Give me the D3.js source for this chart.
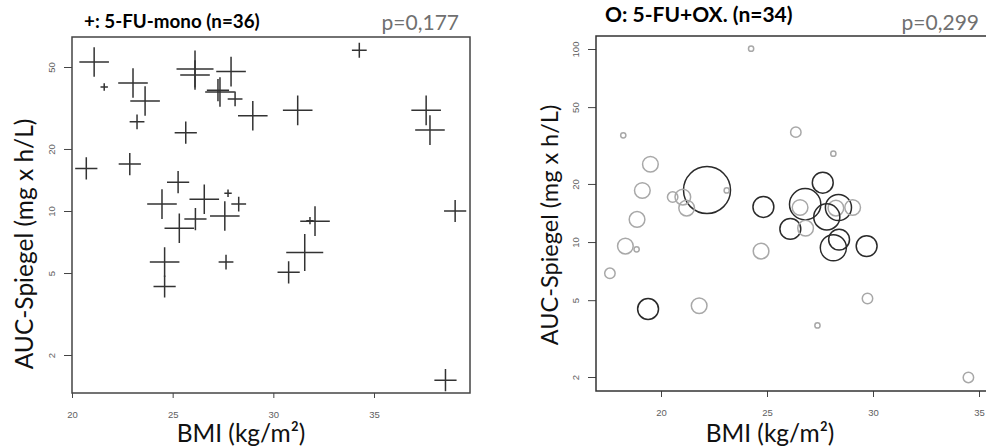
<!DOCTYPE html>
<html>
<head>
<meta charset="utf-8">
<script src="https://cdn.jsdelivr.net/npm/d3@7"></script>
<style>
  body { margin: 0; background: #fff; }
  svg { display: block; }
  .tick text { font-family: "Liberation Sans", Arial, sans-serif; font-size: 9.5px; fill: #606060; }
  .tick line { stroke: #444; }
</style>
</head>
<body>
<div id="chart"></div>
<script>
// 5-FU mono: BMI, AUC level, symbol size class (cross)
var monoBmi = [21.1, 21.6, 23.03, 23.63, 23.23, 25.65, 26.11, 26.11, 27.9, 27.25, 27.35, 28.1,
  28.98, 31.21, 34.27, 37.59, 37.78, 39.03, 38.55, 20.71, 22.87, 25.27, 24.47, 26.57,
  27.75, 28.28, 26.13, 25.33, 27.59, 24.6, 24.6, 27.65, 31.82, 32.07, 31.56, 30.76];
var monoAuc = [52.9, 40.0, 41.8, 34.2, 27.1, 24.0, 48.9, 45.7, 47.5, 38.6, 37.8, 35.0,
  29.0, 30.8, 60.3, 30.8, 24.7, 10.0, 1.51, 16.1, 16.9, 13.8, 10.8, 11.4,
  12.2, 10.8, 9.14, 8.24, 9.46, 5.65, 4.30, 5.65, 8.98, 8.93, 6.28, 5.04];
var monoSize = [4, 1, 4, 4, 2, 3, 5, 4, 4, 3, 4, 2,
  4, 4, 2, 4, 4, 3, 3, 3, 3, 3, 4, 4,
  1, 2, 3, 4, 4, 4, 3, 2, 1, 4, 5, 3];

// 5-FU + OX: BMI, AUC level, circle size class, dark (1) / light (0) outline
var oxBmi = [24.25, 18.22, 26.36, 28.13, 19.5, 19.12, 22.17, 23.1, 20.55, 21.03, 21.21, 27.63,
  24.83, 26.8, 26.56, 28.37, 28.25, 29.04, 27.82, 26.1, 26.82, 28.4, 28.13, 29.7,
  24.72, 18.87, 18.32, 18.85, 17.59, 19.39, 21.8, 29.74, 27.38, 34.5];
var oxAuc = [100.4, 35.7, 37.1, 28.7, 25.3, 18.5, 18.6, 18.5, 17.1, 17.1, 15.0, 20.3,
  15.2, 15.7, 15.1, 15.1, 15.0, 15.1, 13.5, 11.7, 11.8, 10.3, 9.34, 9.53,
  8.98, 13.1, 9.53, 9.17, 6.89, 4.50, 4.68, 5.1, 3.70, 1.99];
var oxSize = [1, 1, 2, 1, 3, 3, 9, 1, 2, 3, 3, 4,
  4, 6, 3, 5, 3, 3, 5, 4, 3, 4, 5, 4,
  3, 3, 3, 1, 2, 4, 3, 2, 1, 2];
var oxDark = [0, 0, 0, 0, 0, 0, 1, 0, 0, 0, 0, 1,
  1, 1, 0, 1, 0, 0, 1, 1, 0, 1, 1, 1,
  0, 0, 0, 0, 0, 1, 0, 0, 0, 0];

var xTicks = [20, 25, 30, 35];
var yTicksMono = [2, 5, 10, 20, 50];
var yTicksOx = [2, 5, 10, 20, 50, 100];

var svgWidth = 986;
var svgHeight = 447;

var svg = d3.select("#chart")
  .append("svg")
  .attr("width", svgWidth)
  .attr("height", svgHeight);

var titleFont = "Lato, 'Open Sans', sans-serif";

// ---------- left panel ----------
var box1 = {left: 72, right: 470, top: 37, bottom: 393};
var x1 = d3.scaleLinear().domain([20, 35]).range([72, 374]);
var y1 = d3.scaleLog().domain([2, 50]).range([355, 67]);
var crossSize = d3.scaleLinear().domain([0, 5]).range([0, 18.5]);

var left = svg.append("g");

left.append("g")
  .attr("transform", `translate(0, ${box1.bottom})`)
  .call(d3.axisBottom(x1).tickValues(xTicks).tickSize(5).tickPadding(13))
  .call(g => g.select(".domain").remove());

left.append("g")
  .attr("transform", `translate(${box1.left}, 0)`)
  .call(d3.axisLeft(y1).tickValues(yTicksMono).tickFormat(d3.format("d")).tickSize(8))
  .call(g => g.select(".domain").remove())
  .call(g => g.selectAll(".tick text")
    .attr("x", 0).attr("dy", 0)
    .attr("text-anchor", "middle")
    .attr("transform", "translate(-17,0) rotate(-90)"));

left.append("rect")
  .attr("x", box1.left).attr("y", box1.top)
  .attr("width", box1.right - box1.left).attr("height", box1.bottom - box1.top)
  .attr("fill", "none").attr("stroke", "#444").attr("stroke-width", 1.5);

var monoData = monoBmi.map((b, i) => ({bmi: b, auc: monoAuc[i], size: monoSize[i]}));

left.selectAll("path.cross")
  .data(monoData)
  .enter()
  .append("path")
  .attr("class", "cross")
  .attr("d", function(d) {
    var cx = x1(d.bmi), cy = y1(d.auc), s = crossSize(d.size);
    return `M${cx - s},${cy}H${cx + s}M${cx},${cy - s}V${cy + s}`;
  })
  .attr("stroke", "#333")
  .attr("stroke-width", 1.5)
  .attr("fill", "none");

left.append("text")
  .attr("x", 84).attr("y", 28)
  .attr("font-family", titleFont).attr("font-weight", "bold").attr("font-size", 18.8)
  .text("+: 5-FU-mono (n=36)");

left.append("text")
  .attr("x", 459).attr("y", 30)
  .attr("text-anchor", "end")
  .attr("font-family", titleFont).attr("font-size", 21).attr("fill", "#707070")
  .text("p=0,177");

left.append("text")
  .attr("transform", "translate(33, 244) rotate(-90)")
  .attr("text-anchor", "middle")
  .attr("font-family", titleFont).attr("font-size", 24.5).attr("fill", "#111")
  .text("AUC-Spiegel (mg x h/L)");

left.append("text")
  .attr("x", 241).attr("y", 442)
  .attr("text-anchor", "middle")
  .attr("font-family", titleFont).attr("font-size", 24.5).attr("fill", "#111")
  .text("BMI (kg/m²)");

// ---------- right panel ----------
var box2 = {left: 596, right: 995, top: 36, bottom: 391};
var x2 = d3.scaleLinear().domain([20, 35]).range([661, 979]);
var y2 = d3.scaleLog().domain([2, 100]).range([377, 49]);
var circleSize = d3.scaleLinear().domain([0, 9]).range([0, 23.5]);

var right = svg.append("g");

right.append("g")
  .attr("transform", `translate(0, ${box2.bottom})`)
  .call(d3.axisBottom(x2).tickValues(xTicks).tickSize(6).tickPadding(12))
  .call(g => g.select(".domain").remove());

right.append("g")
  .attr("transform", `translate(${box2.left}, 0)`)
  .call(d3.axisLeft(y2).tickValues(yTicksOx).tickFormat(d3.format("d")).tickSize(8))
  .call(g => g.select(".domain").remove())
  .call(g => g.selectAll(".tick text")
    .attr("x", 0).attr("dy", 0)
    .attr("text-anchor", "middle")
    .attr("transform", "translate(-17,0) rotate(-90)"));

right.append("rect")
  .attr("x", box2.left).attr("y", box2.top)
  .attr("width", box2.right - box2.left).attr("height", box2.bottom - box2.top)
  .attr("fill", "none").attr("stroke", "#333").attr("stroke-width", 1.5);

var oxData = oxBmi.map((b, i) => ({bmi: b, auc: oxAuc[i], size: oxSize[i], dark: oxDark[i]}));

right.selectAll("circle")
  .data(oxData)
  .enter()
  .append("circle")
  .attr("cx", d => x2(d.bmi))
  .attr("cy", d => y2(d.auc))
  .attr("r", d => circleSize(d.size))
  .attr("fill", "none")
  .attr("stroke", d => d.dark ? "#2a2a2a" : "#a8a8a8")
  .attr("stroke-width", 1.5);

right.append("text")
  .attr("x", 605).attr("y", 22)
  .attr("font-family", titleFont).attr("font-weight", "bold").attr("font-size", 21)
  .text("O: 5-FU+OX. (n=34)");

right.append("text")
  .attr("x", 979).attr("y", 30)
  .attr("text-anchor", "end")
  .attr("font-family", titleFont).attr("font-size", 21).attr("fill", "#707070")
  .text("p=0,299");

right.append("text")
  .attr("transform", "translate(558, 225) rotate(-90)")
  .attr("text-anchor", "middle")
  .attr("font-family", titleFont).attr("font-size", 23.5).attr("fill", "#111")
  .text("AUC-Spiegel (mg x h/L)");

right.append("text")
  .attr("x", 770).attr("y", 442)
  .attr("text-anchor", "middle")
  .attr("font-family", titleFont).attr("font-size", 24.5).attr("fill", "#111")
  .text("BMI (kg/m²)");
</script>
</body>
</html>
